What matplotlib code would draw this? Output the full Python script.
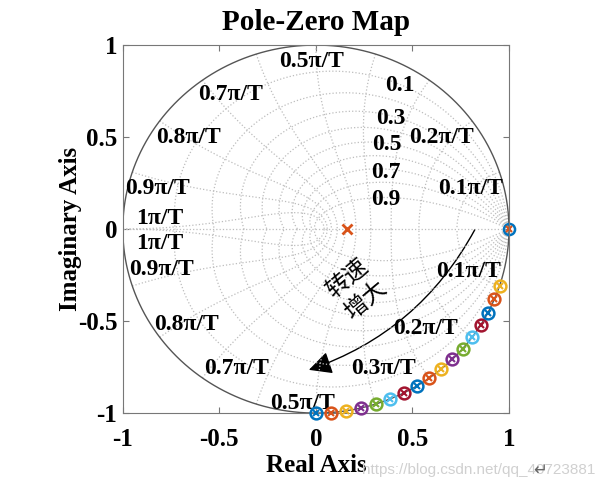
import numpy as np
import matplotlib
matplotlib.use("Agg")
import matplotlib.pyplot as plt
from matplotlib.patches import FancyArrowPatch

plt.rcParams['font.family'] = ['Liberation Serif', 'Noto Sans CJK SC', 'DejaVu Sans']
plt.rcParams['font.weight'] = 'bold'

# MATLAB default colour order
colors = ['#0072BD', '#D95319', '#EDB120', '#7E2F8E', '#77AC30', '#4DBEEE', '#A2142F']

# pole/zero pairs on the unit circle, angle as fraction of pi (below real axis)
pz_frac = [0.5, 0.475, 0.45, 0.425, 0.4, 0.375, 0.35, 0.325, 0.3,
           0.275, 0.25, 0.225, 0.2, 0.175, 0.15, 0.125, 0.1]
pole_single = [0.16]     # lone pole on the real axis
pz_unity = [1.0]         # pole + zero at z = 1

# zgrid
zetas = [0.1, 0.2, 0.3, 0.4, 0.5, 0.6, 0.7, 0.8, 0.9]
wn_frac = [0.1, 0.2, 0.3, 0.4, 0.5, 0.6, 0.7, 0.8, 0.9, 1.0]

wn_labels = ['0.1π/T', '0.2π/T', '0.5π/T', '0.7π/T', '0.8π/T', '0.9π/T', '1π/T',
             '1π/T', '0.9π/T', '0.8π/T', '0.7π/T', '0.5π/T', '0.3π/T', '0.2π/T', '0.1π/T']
wn_label_pos = [(0.80, 0.22), (0.65, 0.50), (-0.02, 0.91), (-0.44, 0.73), (-0.66, 0.50),
                (-0.82, 0.22), (-0.81, 0.06), (-0.81, -0.08), (-0.80, -0.22), (-0.67, -0.52),
                (-0.41, -0.76), (-0.07, -0.95), (0.35, -0.76), (0.57, -0.54), (0.79, -0.23)]
zeta_labels = ['0.1', '0.3', '0.5', '0.7', '0.9']
zeta_label_pos = [(0.435, 0.78), (0.39, 0.60), (0.37, 0.46), (0.36, 0.31), (0.36, 0.16)]

fig = plt.figure(figsize=(6.11, 4.90), dpi=100)
ax = fig.add_axes([0.201, 0.157, 0.632, 0.751])

gcol = '#bdbdbd'
# damping ratio spirals
th = np.linspace(0, np.pi, 300)
for zt in zetas:
    z = np.exp(-zt / np.sqrt(1 - zt ** 2) * th) * np.exp(1j * th)
    ax.plot(z.real, z.imag, ':', color=gcol, lw=0.9)
    ax.plot(z.real, -z.imag, ':', color=gcol, lw=0.9)
# natural frequency curves
zz = np.linspace(0, 1, 200)
for wf in wn_frac:
    w = wf * np.pi
    z = np.exp(-zz * w) * np.exp(1j * w * np.sqrt(1 - zz ** 2))
    ax.plot(z.real, z.imag, ':', color=gcol, lw=0.9)
    ax.plot(z.real, -z.imag, ':', color=gcol, lw=0.9)
ax.plot([-1, 1], [0, 0], ':', color=gcol, lw=0.9)

# unit circle
t = np.linspace(0, 2 * np.pi, 400)
ax.plot(np.cos(t), np.sin(t), '-', color='#555555', lw=1.0)

for lab, (x, y) in zip(wn_labels, wn_label_pos):
    ax.text(x, y, lab, fontsize=17, ha='center', va='center')
for lab, (x, y) in zip(zeta_labels, zeta_label_pos):
    ax.text(x, y, lab, fontsize=17, ha='center', va='center')

# poles / zeros
ax.plot(pz_unity, [0], 'o', mfc='none', mec=colors[0], ms=8, mew=1.8, clip_on=False)
ax.plot(pz_unity, [0], 'x', color=colors[1], ms=5, mew=1.5, clip_on=False)
ax.plot(pole_single, [0], 'x', color=colors[1], ms=7, mew=2)
for i, f in enumerate(pz_frac):
    z = np.exp(-1j * np.pi * f)
    c = colors[i % 7]
    ax.plot(z.real, z.imag, 'o', mfc='none', mec=c, ms=8.5, mew=1.8, clip_on=False, zorder=5)
    ax.plot(z.real, z.imag, 'x', color=c, ms=5, mew=1.5, clip_on=False, zorder=5)

# curved arrow
arr = FancyArrowPatch((0.83, 0.01), (-0.05, -0.77), connectionstyle='arc3,rad=-0.2',
                      arrowstyle='-|>,head_length=0.5,head_width=0.25', mutation_scale=28,
                      facecolor='black', edgecolor='black', lw=1.0)
ax.add_patch(arr)
ax.text(0.21, -0.33, '转速\n增大', fontsize=17, rotation=40, ha='center', va='center',
        family=['Noto Sans CJK SC'], fontweight='normal', linespacing=1.25)

ax.set_xlim(-1, 1)
ax.set_ylim(-1, 1)
ax.set_xticks([-1, -0.5, 0, 0.5, 1])
ax.set_yticks([-1, -0.5, 0, 0.5, 1])
ax.set_xticklabels(['-1', '-0.5', '0', '0.5', '1'])
ax.set_yticklabels(['-1', '-0.5', '0', '0.5', '1'])
ax.tick_params(direction='in', top=True, right=True, length=4, color='#777777',
               labelsize=18, pad=4)
ax.tick_params(axis='x', pad=11)
for s in ax.spines.values():
    s.set_color('#777777')
ax.set_title('Pole-Zero Map', fontsize=21, fontweight='bold', pad=11)
ax.set_xlabel('Real Axis', fontsize=18, fontweight='bold', labelpad=2)
ax.set_ylabel('Imaginary Axis', fontsize=18, fontweight='bold', labelpad=-3)

fig.text(0.592, 0.041, 'https://blog.csdn.net/qq_40723881', fontsize=11, color='#d0d0d0',
         family=['Liberation Sans'], fontweight='normal', va='center')
fig.text(0.872, 0.041, '↵', fontsize=12, color='#666666', family=['DejaVu Sans'],
         fontweight='normal', va='center')

fig.savefig('out.png', dpi=100)
